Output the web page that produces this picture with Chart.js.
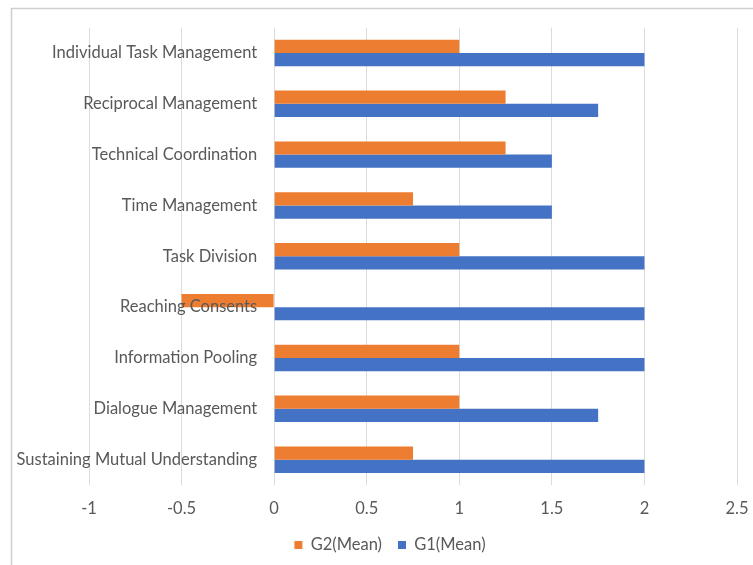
<!DOCTYPE html>
<html>
<head>
<meta charset="utf-8">
<script src="https://cdn.jsdelivr.net/npm/chart.js@4/dist/chart.umd.min.js"></script>
<style>
  html, body { margin: 0; padding: 0; background: #ffffff; }
  #wrap { position: relative; width: 753px; height: 565px; }
</style>
</head>
<body>
<div id="wrap"><canvas id="chart" width="753" height="565"></canvas></div>
<script>
const categories = [
  'Individual Task Management',
  'Reciprocal Management',
  'Technical Coordination',
  'Time Management',
  'Task Division',
  'Reaching Consents',
  'Information Pooling',
  'Dialogue Management',
  'Sustaining Mutual Understanding'
];
const g2Mean = [1, 1.25, 1.25, 0.75, 1, -0.5, 1, 1, 0.75];
const g1Mean = [2, 1.75, 1.5, 1.5, 2, 2, 2, 1.75, 2];
const seriesNames = ['G2(Mean)', 'G1(Mean)'];
const axisMin = -1, axisMax = 2.5, axisStep = 0.5;
const tickLabels = ['-1', '-0.5', '0', '0.5', '1', '1.5', '2', '2.5'];

const FONT = 'Lato, "Open Sans", sans-serif';
const TEXT = '#595959';
const FONT_SIZE = 16.5;

// thin grey frame around the chart
const framePlugin = {
  id: 'frame',
  beforeDraw(chart) {
    const ctx = chart.ctx;
    ctx.save();
    ctx.strokeStyle = '#cfcfcf';
    ctx.lineWidth = 1.5;
    ctx.beginPath();
    ctx.moveTo(11.5, chart.height + 2);
    ctx.lineTo(11.5, 8.5);
    ctx.lineTo(chart.width + 2, 8.5);
    ctx.stroke();
    ctx.restore();
  }
};

// category names sit just left of the zero line, drawn over the bars
const categoryLabelPlugin = {
  id: 'categoryLabels',
  afterDatasetsDraw(chart) {
    const { ctx, scales: { x, y } } = chart;
    const right = x.getPixelForValue(0) - 17;
    ctx.save();
    ctx.font = FONT_SIZE + 'px ' + FONT;
    ctx.fillStyle = TEXT;
    ctx.textAlign = 'right';
    ctx.textBaseline = 'middle';
    y.ticks.forEach((t, i) => {
      ctx.fillText(y.getLabelForValue(t.value), right, y.getPixelForTick(i));
    });
    ctx.restore();
  }
};

new Chart(document.getElementById('chart'), {
  type: 'bar',
  data: {
    labels: categories,
    datasets: [
      { label: seriesNames[0], data: g2Mean, backgroundColor: '#ED7D31',
        barPercentage: 1, categoryPercentage: 0.52 },
      { label: seriesNames[1], data: g1Mean, backgroundColor: '#4472C4',
        barPercentage: 1, categoryPercentage: 0.52 }
    ]
  },
  options: {
    indexAxis: 'y',
    responsive: false,
    animation: false,
    layout: { padding: { left: 43, right: 16, top: 27.5, bottom: 1.75 } },
    scales: {
      x: {
        min: axisMin, max: axisMax,
        ticks: {
          stepSize: axisStep, color: TEXT, padding: 13.5,
          font: { family: FONT, size: FONT_SIZE },
          callback: (v, i) => tickLabels[i]
        },
        grid: { color: '#dcdcdc', lineWidth: 1, drawTicks: false },
        border: { display: false },
        afterFit: (s) => { s.height = 35.65; s.paddingLeft = 0; s.paddingRight = 0; }
      },
      y: {
        position: 'left',
        ticks: { display: false },
        grid: { display: false, drawTicks: false },
        border: { display: false },
        afterFit: (s) => { s.width = 46; }
      }
    },
    plugins: {
      legend: {
        position: 'bottom',
        labels: { boxWidth: 8, boxHeight: 8, padding: 16, color: TEXT,
                  font: { family: FONT, size: FONT_SIZE } }
      },
      tooltip: { enabled: false }
    }
  },
  plugins: [framePlugin, categoryLabelPlugin]
});
</script>
</body>
</html>
